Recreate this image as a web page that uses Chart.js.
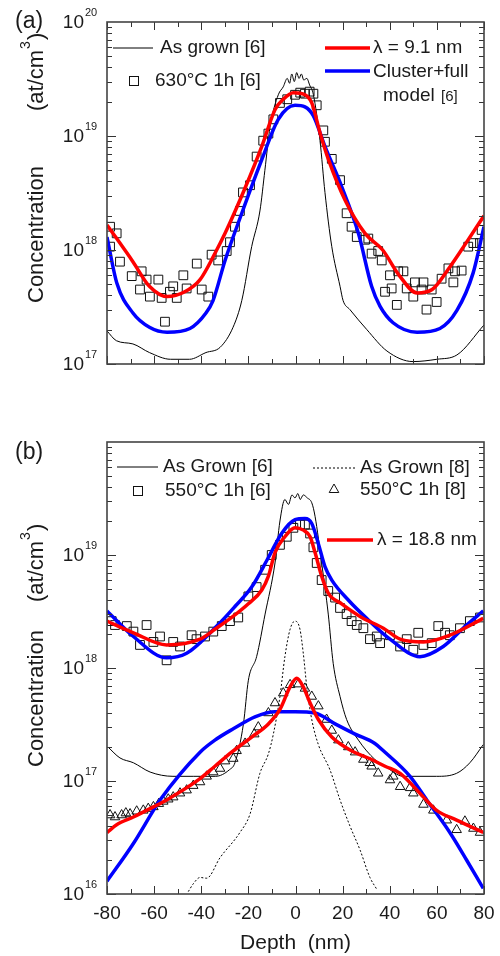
<!DOCTYPE html>
<html>
<head>
<meta charset="utf-8">
<script src="https://cdn.jsdelivr.net/npm/chart.js@4.4.0/dist/chart.umd.min.js"></script>
<style>
  html, body { margin: 0; padding: 0; background: #fff; }
  #wrap { position: relative; width: 500px; height: 956px; }
  canvas { position: absolute; left: 0; }
</style>
</head>
<body>
<div id="wrap">
  <canvas id="chartA" width="500" height="400" style="top:0px"></canvas>
  <canvas id="chartB" width="500" height="556" style="top:400px"></canvas>
</div>
<script>
// ---- panel (a): 630°C 1h ----
const grownA_depth = [-80, -76, -69, -62, -53, -45, -38, -32, -26.5, -22.8, -18.6, -15.1, -13, -10.8, -7.3, -5.2, -3.5, -2.5, -1.6, -0.5, 0.5, 1.5, 2.5, 3.5, 4.8, 6, 7.6, 10.4, 12.5, 15.4, 18.9, 20.2, 23.1, 30.3, 38.8, 49.9, 60, 68.5, 80];
const grownA_conc = [1.95e17, 1.6e17, 1.5e17, 1.26e17, 1.1e17, 1.1e17, 1.26e17, 1.4e17, 2.1e17, 3.6e17, 1.07e18, 2.2e18, 5.0e18, 1.2e19, 2.3e19, 2.7e19, 3.2e19, 2.9e19, 3.5e19, 3.0e19, 3.6e19, 3.2e19, 3.5e19, 3.1e19, 3.2e19, 2.8e19, 2.3e19, 9.1e18, 3.2e18, 1.07e18, 4.8e17, 3.6e17, 3.0e17, 2.0e17, 1.3e17, 1.05e17, 1.1e17, 1.2e17, 2.2e17];

const annealA_depth = [-78.7, -78.7, -75.9, -74.5, -69.5, -66, -65.3, -63.2, -61.8, -58.2, -56.8, -55.4, -53.3, -51.9, -50.4, -47.6, -46.2, -41.9, -39.8, -37, -35.6, -32.8, -29.2, -27.8, -25.7, -23.6, -22.3, -19.3, -16.5, -13.7, -11.5, -9.4, -6.6, -3.5, -0.2, 2, 4, 6, 7.6, 9, 11.8, 12.5, 15.4, 18.9, 21.7, 23.8, 26, 29.5, 30.9, 32.3, 35.1, 36.6, 38, 40.1, 40.8, 43, 43.6, 45.8, 47.2, 50, 50.7, 53.5, 54.3, 55.6, 57.8, 59.9, 62, 64.9, 67, 67.7, 70.5, 73.3, 75.5, 78.3, 79];
const annealA_conc = [1.6e18, 1.07e18, 1.4e18, 7.9e17, 5.9e17, 4.5e17, 6.5e17, 5.5e17, 3.9e17, 5.5e17, 3.8e17, 2.35e17, 4.3e17, 4.8e17, 3.8e17, 6.0e17, 4.6e17, 7.6e17, 4.5e17, 3.9e17, 9.1e17, 8.1e17, 9.8e17, 1.17e18, 1.6e18, 2.2e18, 3.2e18, 3.7e18, 6.6e18, 9.1e18, 1.05e19, 1.4e19, 1.95e19, 2.1e19, 2.3e19, 2.4e19, 2.35e19, 2.45e19, 2.35e19, 1.86e19, 1.12e19, 8.9e18, 6.3e18, 4.1e18, 2.1e18, 1.6e18, 1.3e18, 1.23e18, 1.26e18, 9.3e17, 9.8e17, 8.1e17, 4.3e17, 6.0e17, 4.6e17, 3.3e17, 6.5e17, 6.5e17, 4.6e17, 3.9e17, 5.2e17, 4.5e17, 5.2e17, 3.0e17, 4.5e17, 3.5e17, 5.6e17, 6.9e17, 5.2e17, 6.5e17, 6.6e17, 1.07e18, 1.15e18, 1.15e18, 1.5e18];

const lambdaA_depth = [-80, -69, -62, -54.5, -47, -40.5, -34, -29.9, -21.4, -14.3, -8.7, -5.2, -0.9, 4, 6.9, 10.4, 14, 21, 29.5, 37, 44, 51.6, 58, 65.5, 72, 80];
const lambdaA_conc = [1.66e18, 7.9e17, 4.8e17, 3.9e17, 4.3e17, 5.5e17, 9.5e17, 1.4e18, 3.5e18, 8.1e18, 1.7e19, 2.1e19, 2.4e19, 2.3e19, 1.95e19, 1.07e19, 6.2e18, 2.75e18, 1.4e18, 1.0e18, 6.0e17, 4.2e17, 4.5e17, 7.1e17, 1.12e18, 2.0e18];

const clusterA_depth = [-80, -75.8, -69, -62, -54.5, -44.8, -38, -35, -29.9, -22.8, -14.3, -7.3, -0.2, 4, 7.6, 12.5, 19.6, 26.7, 32.3, 35.9, 41.4, 51.6, 61.3, 68.5, 75.4, 80];
const clusterA_conc = [1.3e18, 5.1e17, 2.8e17, 2.1e17, 1.9e17, 2.05e17, 2.8e17, 3.6e17, 8.1e17, 2.1e18, 6.2e18, 1.4e19, 1.86e19, 1.8e19, 1.5e19, 8.1e18, 3.6e18, 1.4e18, 4.8e17, 3.2e17, 2.3e17, 1.9e17, 2.05e17, 2.95e17, 6.3e17, 1.6e18];

// ---- panel (b): 550°C 1h ----
const grown6_depth = [-79.6, -74.5, -68.8, -61.7, -52, -43.4, -34, -28, -25.7, -22.1, -20, -16.5, -12.9, -8.7, -6.6, -4.5, -3, -1.5, -0.2, 1, 2, 3.3, 5, 6.9, 8.3, 11.1, 13.9, 16, 18.9, 21.7, 26.7, 33.7, 38, 45.8, 59.9, 68.4, 74, 79.7];
const grown6_conc = [2.0e17, 1.6e17, 1.45e17, 1.2e17, 1.1e17, 1.1e17, 1.1e17, 1.26e17, 1.45e17, 3.2e17, 7.8e17, 1.26e18, 3.0e18, 8.5e18, 2.0e19, 3.1e19, 2.8e19, 3.4e19, 3.2e19, 3.5e19, 3.1e19, 3.4e19, 3.2e19, 2.9e19, 2.2e19, 8.5e18, 3.0e18, 1.1e18, 5.6e17, 3.5e17, 2.3e17, 1.55e17, 1.35e17, 1.1e17, 1.1e17, 1.17e17, 1.45e17, 2.1e17];

const grown8_depth = [-45.5, -43.4, -40.5, -37.7, -32, -23.6, -19.3, -15.1, -11.5, -9.4, -6.6, -4.5, -2.3, -0.2, 1.9, 3.3, 4.8, 6.9, 9.7, 14.6, 18.9, 23.1, 27.4, 31.6, 34.5];
const grown8_conc = [1.05e16, 1.23e16, 1.4e16, 1.38e16, 2.1e16, 3.5e16, 5.1e16, 1.17e17, 1.74e17, 2.6e17, 5.6e17, 1.26e18, 2.2e18, 2.6e18, 2.2e18, 1.35e18, 6.8e17, 3.5e17, 2.1e17, 1.26e17, 6.8e16, 4.0e16, 2.45e16, 1.4e16, 1.1e16];

const anneal6_depth = [-78, -76.6, -71.6, -68.8, -66, -63.2, -60.3, -57.5, -54.7, -51.9, -49, -44.1, -42, -38.4, -34.9, -31.3, -27.8, -24.3, -20, -16.5, -12.9, -10.1, -6.6, -3.7, -0.9, 1.9, 4, 6.2, 7.6, 9, 11.1, 13.9, 16.8, 18.9, 21.7, 23.8, 26, 28.8, 31.6, 34.5, 35.9, 40.1, 44.4, 47.2, 50, 52.1, 54.3, 57.8, 60.6, 63.5, 65.5, 69.8, 74, 78.3];
const anneal6_conc = [2.6e18, 2.4e18, 2.35e18, 2.1e18, 1.6e18, 2.4e18, 1.7e18, 1.9e18, 1.17e18, 1.7e18, 1.55e18, 1.95e18, 1.8e18, 1.9e18, 2.1e18, 2.35e18, 2.6e18, 2.8e18, 4.3e18, 5.2e18, 7.4e18, 1.0e19, 1.23e19, 1.45e19, 1.74e19, 1.86e19, 1.86e19, 1.55e19, 1.17e19, 8.5e18, 6.0e18, 4.8e18, 4.2e18, 3.4e18, 3.0e18, 2.6e18, 2.4e18, 2.25e18, 1.8e18, 1.9e18, 1.66e18, 1.95e18, 1.55e18, 1.8e18, 1.45e18, 2.05e18, 1.6e18, 1.66e18, 2.35e18, 2.05e18, 1.95e18, 2.25e18, 2.6e18, 2.8e18];

const anneal8_depth = [-78.7, -76.6, -73.8, -72, -70.2, -67.4, -64.6, -62.5, -60.3, -58, -56.1, -54, -51.9, -49, -46.2, -43.4, -40.5, -37.7, -34.9, -32, -29.9, -26.4, -25, -21.4, -17.5, -15.8, -11.5, -8.7, -5.2, -2.3, 1.2, 4, 6.9, 9.7, 13.2, 15.4, 18.2, 22.4, 25.3, 28.8, 31.6, 32.3, 35.1, 40.1, 41.5, 44.4, 48.6, 50, 54.3, 58.5, 64.2, 68.4, 71.9, 75.5, 78.3];
const anneal8_conc = [5.0e16, 4.8e16, 5.0e16, 5.2e16, 5.1e16, 5.4e16, 5.5e16, 5.7e16, 5.9e16, 6.3e16, 6.6e16, 6.9e16, 7.2e16, 7.8e16, 8.3e16, 9.1e16, 9.8e16, 1.1e17, 1.2e17, 1.29e17, 1.5e17, 1.58e17, 1.85e17, 2.15e17, 2.6e17, 3.0e17, 4.0e17, 4.9e17, 6.0e17, 7.1e17, 7.2e17, 6.6e17, 5.6e17, 4.6e17, 3.5e17, 2.8e17, 2.3e17, 2.0e17, 1.8e17, 1.55e17, 1.45e17, 1.35e17, 1.17e17, 1.02e17, 1.1e17, 8.9e16, 8.7e16, 7.8e16, 6.2e16, 5.5e16, 4.5e16, 3.7e16, 4.4e16, 3.8e16, 3.5e16];

const lambda6_depth = [-80, -68.8, -54.7, -40.5, -34.2, -27.1, -20, -14.3, -11.5, -8.7, -4.5, -0.2, 3.3, 6.2, 8.3, 11.1, 13.9, 19.6, 28.1, 37.3, 44.4, 54.3, 65.5, 79.7];
const lambda6_conc = [2.6e18, 2.05e18, 1.6e18, 1.8e18, 2.2e18, 2.8e18, 3.7e18, 4.9e18, 6.5e18, 1.05e19, 1.45e19, 1.74e19, 1.66e19, 1.45e19, 1.05e19, 6.5e18, 4.6e18, 3.7e18, 2.8e18, 2.25e18, 1.8e18, 1.7e18, 1.95e18, 2.75e18];

const cluster6_depth = [-80, -68.8, -54.7, -46.2, -33.4, -25.7, -18.6, -11.5, -5.9, -0.2, 4, 6.9, 9.7, 12.5, 15.4, 22.4, 30.2, 40.1, 52.8, 62.7, 72.6, 79.7];
const cluster6_conc = [3.2e18, 1.9e18, 1.23e18, 1.35e18, 2.35e18, 3.5e18, 5.2e18, 9.5e18, 1.55e19, 2.05e19, 2.1e19, 1.9e19, 1.26e19, 7.9e18, 6.0e18, 4.0e18, 2.75e18, 1.8e18, 1.26e18, 1.55e18, 2.4e18, 3.2e18];

const lambda8_depth = [-80, -75.9, -68.8, -60.3, -54.7, -40.5, -34.2, -27.1, -18.6, -11.5, -6.6, -2.3, 0.5, 3.3, 6.2, 9.7, 15.4, 23.8, 32.3, 38, 44.4, 54.3, 59.9, 68.4, 79.7];
const lambda8_conc = [3.5e16, 4.1e16, 4.8e16, 5.9e16, 6.8e16, 1.05e17, 1.35e17, 1.8e17, 2.45e17, 3.2e17, 4.3e17, 6.8e17, 8.1e17, 6.8e17, 4.9e17, 3.5e17, 2.45e17, 1.85e17, 1.55e17, 1.35e17, 1.17e17, 7.2e16, 5.5e16, 4.5e16, 3.5e16];

const cluster8_depth = [-80, -68.8, -60.3, -57.5, -40.5, -34.2, -26.4, -17.2, -8.7, -0.2, 8.3, 16.8, 25.3, 33.7, 37.3, 48.6, 55.7, 65.5, 72.6, 79.7];
const cluster8_conc = [1.3e16, 2.8e16, 5.5e16, 6.8e16, 1.8e17, 2.3e17, 2.9e17, 3.7e17, 4.1e17, 4.1e17, 4.0e17, 3.2e17, 2.6e17, 2.15e17, 1.85e17, 1.1e17, 6.8e16, 3.5e16, 2.0e16, 1.12e16];

const depthTicks = [-80, -60, -40, -20, 0, 20, 40, 60, 80];
const decadesA = [17, 18, 19, 20];
const decadesB = [16, 17, 18, 19];

const FONT = '"Liberation Sans", Arial, sans-serif';
const INK = '#1a1a1a';

function pts(xs, ys) {
    return xs.map((x, i) => ({ x: x, y: ys[i] }));
}

function lineSet(label, xs, ys, color, width, dash) {
    return {
        label: label, data: pts(xs, ys), showLine: true,
        borderColor: color, borderWidth: width, borderDash: dash || [],
        pointRadius: 0, cubicInterpolationMode: 'monotone', fill: false
    };
}

function markerSet(label, xs, ys, style, radius) {
    return {
        label: label, data: pts(xs, ys), showLine: false,
        pointStyle: style, pointRadius: radius, pointBorderWidth: 1,
        pointBorderColor: '#111', pointBackgroundColor: 'rgba(0,0,0,0)'
    };
}

function drawSquare(ctx, x, y) {
    ctx.lineWidth = 1; ctx.strokeStyle = '#111';
    ctx.strokeRect(x - 4.5, y - 4.5, 9, 9);
}
function drawTriangle(ctx, x, y) {
    ctx.lineWidth = 1; ctx.strokeStyle = '#111';
    ctx.beginPath();
    ctx.moveTo(x, y - 5); ctx.lineTo(x + 4.8, y + 3.5); ctx.lineTo(x - 4.8, y + 3.5); ctx.closePath();
    ctx.stroke();
}
function sample(ctx, x1, x2, y, color, width, dash) {
    ctx.save();
    ctx.strokeStyle = color; ctx.lineWidth = width; ctx.setLineDash(dash || []);
    ctx.beginPath(); ctx.moveTo(x1, y); ctx.lineTo(x2, y); ctx.stroke();
    ctx.restore();
}
function text(ctx, s, x, y, size, align) {
    ctx.font = size + 'px ' + FONT;
    ctx.fillStyle = INK;
    ctx.textAlign = align || 'left';
    ctx.textBaseline = 'middle';
    ctx.fillText(s, x, y);
}

// frame, inward ticks, tick labels, titles and legend
function framePlugin(cfg) {
    return {
        id: 'frame',
        afterDraw(chart) {
            const ctx = chart.ctx, a = chart.chartArea;
            const xs = chart.scales.x, ys = chart.scales.y;
            ctx.save();
            ctx.strokeStyle = '#333'; ctx.lineWidth = 1;
            ctx.beginPath();
            for (let d = -80; d <= 80; d += 10) {
                const px = Math.round(xs.getPixelForValue(d)) + 0.5;
                const len = d % 20 === 0 ? 8 : 5;
                ctx.moveTo(px, a.bottom); ctx.lineTo(px, a.bottom - len);
                if (cfg.topTicks) { ctx.moveTo(px, a.top); ctx.lineTo(px, a.top + len); }
            }
            for (let e = cfg.minExp; e < cfg.maxExp; e++) {
                for (let m = 1; m <= 9; m++) {
                    const py = Math.round(ys.getPixelForValue(m * Math.pow(10, e))) + 0.5;
                    const len = m === 1 ? 9 : 5;
                    ctx.moveTo(a.left, py); ctx.lineTo(a.left + len, py);
                    ctx.moveTo(a.right, py); ctx.lineTo(a.right - len, py);
                }
            }
            ctx.stroke();
            ctx.lineWidth = 1.6; ctx.strokeStyle = '#444';
            ctx.strokeRect(a.left, a.top, a.right - a.left, a.bottom - a.top);

            // y tick labels 10^n
            cfg.decades.forEach(e => {
                const py = ys.getPixelForValue(Math.pow(10, e));
                text(ctx, '10', a.left - 23, py + 1, 19, 'right');
                text(ctx, String(e), a.left - 22, py - 9, 11, 'left');
            });
            // x tick labels
            if (cfg.xLabels) {
                depthTicks.forEach(d => {
                    text(ctx, String(d), xs.getPixelForValue(d), a.bottom + 20, 19, 'center');
                });
                text(ctx, 'Depth  (nm)', (a.left + a.right) / 2, a.bottom + 49, 21, 'center');
            }
            // y title (rotated)
            ctx.save();
            ctx.translate(43, cfg.titleStart);
            ctx.rotate(-Math.PI / 2);
            ctx.font = '22px ' + FONT; ctx.fillStyle = INK;
            ctx.textAlign = 'left'; ctx.textBaseline = 'alphabetic';
            ctx.fillText('Concentration', 0, 0);
            let ux = cfg.unitStart;
            ctx.fillText('(at/cm', ux, 0);
            ux += ctx.measureText('(at/cm').width;
            ctx.font = '14px ' + FONT;
            ctx.fillText('3', ux + 1, -13);
            ux += ctx.measureText('3').width + 2;
            ctx.font = '22px ' + FONT;
            ctx.fillText(')', ux, 0);
            ctx.restore();

            text(ctx, cfg.panel, 15, cfg.panelY, 23, 'left');
            cfg.legend(ctx);
            ctx.restore();
        }
    };
}

function makeChart(id, datasets, yMin, yMax, padding, cfg) {
    return new Chart(document.getElementById(id).getContext('2d'), {
        type: 'scatter',
        data: { datasets: datasets },
        options: {
            responsive: false, animation: false, events: [],
            layout: { padding: padding },
            plugins: { legend: { display: false }, tooltip: { enabled: false } },
            scales: {
                x: { type: 'linear', min: -80, max: 80, display: false },
                y: { type: 'logarithmic', min: yMin, max: yMax, display: false }
            }
        },
        plugins: [framePlugin(cfg)]
    });
}

makeChart('chartA', [
    lineSet('λ = 9.1 nm', lambdaA_depth, lambdaA_conc, '#ff0000', 3.5),
    lineSet('Cluster+full model [6]', clusterA_depth, clusterA_conc, '#0000ff', 3.5),
    markerSet('630°C 1h [6]', annealA_depth, annealA_conc, 'rect', 6.2),
    lineSet('As grown [6]', grownA_depth, grownA_conc, '#000', 1)
], 1e17, 1e20, { left: 107, right: 16, top: 22, bottom: 36 }, {
    panel: '(a)', panelY: 22, topTicks: true, xLabels: false,
    minExp: 17, maxExp: 20, decades: decadesA,
    titleStart: 303, unitStart: 192,
    legend(ctx) {
        sample(ctx, 113, 153, 48, '#000', 1);
        text(ctx, 'As grown [6]', 160, 48, 19);
        drawSquare(ctx, 134, 81);
        text(ctx, '630°C 1h [6]', 155, 81, 19);
        sample(ctx, 325, 370, 48, '#ff0000', 3.5);
        text(ctx, 'λ = 9.1 nm', 373, 48, 19);
        sample(ctx, 325, 370, 71, '#0000ff', 3.5);
        text(ctx, 'Cluster+full', 373, 72, 19);
        text(ctx, 'model', 383, 96, 19);
        text(ctx, '[6]', 441, 97, 15);
    }
});

makeChart('chartB', [
    lineSet('λ = 18.8 nm', lambda6_depth, lambda6_conc, '#ff0000', 3.5),
    lineSet('λ = 18.8 nm (8)', lambda8_depth, lambda8_conc, '#ff0000', 3.5),
    lineSet('Cluster model [6]', cluster6_depth, cluster6_conc, '#0000ff', 3.5),
    lineSet('Cluster model [8]', cluster8_depth, cluster8_conc, '#0000ff', 3.5),
    markerSet('550°C 1h [6]', anneal6_depth, anneal6_conc, 'rect', 6.2),
    markerSet('550°C 1h [8]', anneal8_depth, anneal8_conc, 'triangle', 5.5),
    lineSet('As Grown [6]', grown6_depth, grown6_conc, '#000', 1),
    lineSet('As Grown [8]', grown8_depth, grown8_conc, '#000', 1, [2, 2])
], 1e16, 1e20, { left: 107, right: 16, top: 42, bottom: 62 }, {
    panel: '(b)', panelY: 53, topTicks: false, xLabels: true,
    minExp: 16, maxExp: 20, decades: decadesB,
    titleStart: 367, unitStart: 165,
    legend(ctx) {
        sample(ctx, 117, 158, 67, '#000', 1);
        text(ctx, 'As Grown [6]', 163, 67, 19);
        drawSquare(ctx, 138, 91);
        text(ctx, '550°C 1h [6]', 165, 91, 19);
        sample(ctx, 313, 355, 68, '#000', 1, [2, 2]);
        text(ctx, 'As Grown [8]', 360, 68, 19);
        drawTriangle(ctx, 334, 89);
        text(ctx, '550°C 1h [8]', 360, 90, 19);
        sample(ctx, 327, 373, 140, '#ff0000', 3.5);
        text(ctx, 'λ = 18.8 nm', 377, 140, 19);
    }
});
</script>
</body>
</html>
